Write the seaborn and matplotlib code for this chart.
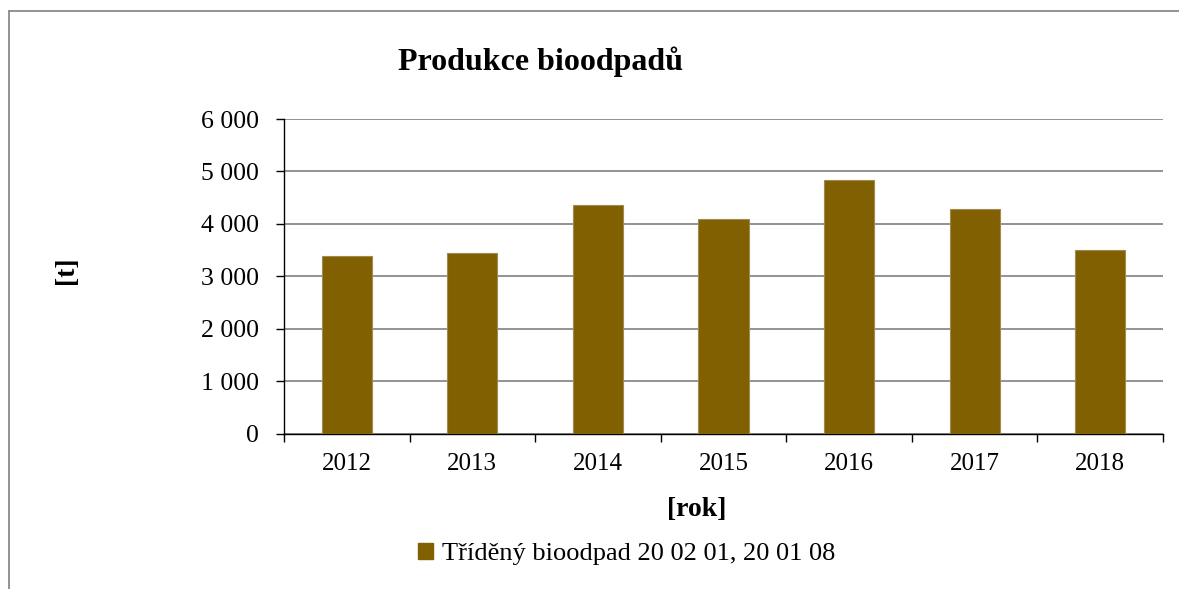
import pandas as pd
import matplotlib.pyplot as plt
import seaborn as sns
from matplotlib.ticker import FuncFormatter, FixedLocator
from matplotlib.lines import Line2D
from matplotlib.patches import Patch

# data
roky = ["2012", "2013", "2014", "2015", "2016", "2017", "2018"]
produkce = [3380, 3450, 4355, 4100, 4845, 4275, 3510]
serie = "Tříděný bioodpad 20 02 01, 20 01 08"

sns.set_theme(style="white")
plt.rcParams["font.family"] = ["Liberation Serif", "DejaVu Serif"]
plt.rcParams["text.color"] = "black"
plt.rcParams["axes.labelcolor"] = "black"
plt.rcParams["xtick.color"] = "black"
plt.rcParams["ytick.color"] = "black"

df = pd.DataFrame({"rok": roky, "t": produkce})
barva = "#806000"

fig = plt.figure(figsize=(11.79, 5.89), dpi=100)
ax = fig.add_axes([284 / 1179, 1 - 433.5 / 589, (1163 - 284) / 1179, (433.5 - 119) / 589])

sns.barplot(data=df, x="rok", y="t", color=barva, width=0.4, ax=ax,
            edgecolor="#a08a50", linewidth=0.8, saturation=1, zorder=3)

ax.set_ylim(0, 6000)
ax.set_xlim(-0.5, len(roky) - 0.5)
ax.set_yticks(range(0, 6001, 1000))
ax.yaxis.set_major_formatter(FuncFormatter(lambda v, p: f"{int(v):,}".replace(",", " ")))
ax.grid(axis="y", color="#808080", linewidth=1.2, zorder=0)
ax.set_axisbelow(True)

# category ticks sit between the bars
ax.xaxis.set_minor_locator(FixedLocator([i - 0.5 for i in range(len(roky) + 1)]))
ax.tick_params(axis="x", which="major", length=0, labelsize=18, pad=14)
ax.tick_params(axis="x", which="minor", length=6, width=1, color="black", bottom=True)
ax.tick_params(axis="y", length=6, width=1, color="black", labelsize=18.5, pad=12, left=True)

for s in ["top", "right"]:
    ax.spines[s].set_visible(False)
for s in ["left", "bottom"]:
    ax.spines[s].set_color("black")
    ax.spines[s].set_linewidth(1)

ax.set_xlabel("[rok]", fontsize=20, fontweight="bold", labelpad=16)
ax.xaxis.label.set_x((697 - 284) / 879)
ax.set_ylabel("[t]", fontsize=20, fontweight="bold", labelpad=0)
ax.yaxis.set_label_coords(-0.2336, 0.52)
fig.text(540 / 1179, 1 - 62 / 589, "Produkce bioodpadů", ha="center", va="center",
         fontsize=23, fontweight="bold")

handle = Patch(facecolor=barva, edgecolor=barva)
fig.legend([handle], [serie], loc="center", bbox_to_anchor=(627 / 1179, 1 - 554 / 589),
           frameon=False, fontsize=19, handlelength=0.55, handleheight=0.55, handletextpad=0.35)

# outer chart border (partly cropped in the reference)
fig.add_artist(Line2D([9 / 1179, 9 / 1179], [0, 1 - 11 / 589], transform=fig.transFigure,
                      color="#808080", linewidth=1.2))
fig.add_artist(Line2D([9 / 1179, 1.01], [1 - 11 / 589, 1 - 11 / 589], transform=fig.transFigure,
                      color="#808080", linewidth=1.2))

fig.savefig("out.png", dpi=100, facecolor="white")
